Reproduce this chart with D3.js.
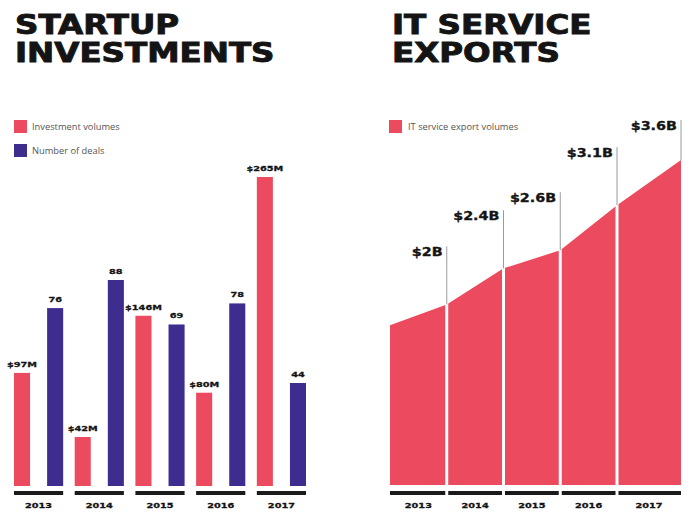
<!DOCTYPE html>
<html>
<head>
  <title>Startup Investments / IT Service Exports</title>
  <script src="https://d3js.org/d3.v7.min.js"></script>
  <style>
    body { margin: 0; background: #fff; }
    .wide { font-family: "DejaVu Sans", sans-serif; font-weight: bold; fill: #141414; stroke: #141414; stroke-width: 0.3; }
    .title { stroke-width: 0.9; }
    .legend { font-family: "Open Sans", sans-serif; font-size: 9.3px; fill: #555; }
  </style>
</head>
<body>
<div id="chart"></div>
<script>
  const years = ["2013", "2014", "2015", "2016", "2017"];
  const investVolumes = [97, 42, 146, 80, 265];
  const investLabels = ["$97M", "$42M", "$146M", "$80M", "$265M"];
  const dealCounts = [76, 88, 69, 78, 44];
  const exportStart = 1.77; // start of 2013, not labelled
  const exportVolumes = [2, 2.4, 2.6, 3.1, 3.6];
  const exportLabels = ["$2B", "$2.4B", "$2.6B", "$3.1B", "$3.6B"];

  const red = "#ec4a5e";
  const blue = "#3e2d8e";
  const width = 693;
  const height = 519;

  const svg = d3.select("#chart")
          .append("svg")
          .attr("width", width)
          .attr("height", height);

  // wide bold text: the original font is an extended grotesque
  function wide(g, x, y, str, size, anchor) {
    return g.append("text")
            .attr("class", "wide")
            .attr("transform", `translate(${x},${y}) scale(1.25,1)`)
            .attr("text-anchor", anchor || "start")
            .attr("font-size", size)
            .text(str);
  }

  // ---------- left: startup investments ----------
  const left = svg.append("g");
  wide(left, 15, 34, "STARTUP", 26).classed("title", true);
  wide(left, 15, 62, "INVESTMENTS", 26).classed("title", true);

  const legendL = [["Investment volumes", red], ["Number of deals", blue]];
  legendL.forEach(([name, c], i) => {
    left.append("rect").attr("x", 14).attr("y", 120 + i * 24)
            .attr("width", 13).attr("height", 13).attr("fill", c);
    left.append("text").attr("class", "legend")
            .attr("x", 32).attr("y", 129.5 + i * 24).text(name);
  });

  const x0 = d3.scaleBand()
          .domain(years)
          .range([14, 306])
          .paddingInner(0.19)
          .paddingOuter(0);

  const x1 = d3.scaleBand()
          .domain(["vol", "deals"])
          .range([0, x0.bandwidth()])
          .paddingInner(0.515);

  const baseL = 486;
  const yVol = d3.scaleLinear().domain([0, 265]).range([baseL, 177]);
  const yDeals = d3.scaleLinear().domain([0, 132]).range([baseL, 177]);

  const groups = left.selectAll(".grp")
          .data(years)
          .enter()
          .append("g")
          .attr("class", "grp")
          .attr("transform", d => `translate(${x0(d)},0)`);

  groups.append("rect")
          .attr("x", x1("vol"))
          .attr("width", x1.bandwidth())
          .attr("y", (d, i) => yVol(investVolumes[i]))
          .attr("height", (d, i) => baseL - yVol(investVolumes[i]))
          .attr("fill", red);

  groups.append("rect")
          .attr("x", x1("deals"))
          .attr("width", x1.bandwidth())
          .attr("y", (d, i) => yDeals(dealCounts[i]))
          .attr("height", (d, i) => baseL - yDeals(dealCounts[i]))
          .attr("fill", blue);

  groups.each(function (d, i) {
    const g = d3.select(this);
    wide(g, x1("vol") + x1.bandwidth() / 2, yVol(investVolumes[i]) - 6, investLabels[i], 7.8, "middle");
    wide(g, x1("deals") + x1.bandwidth() / 2, yDeals(dealCounts[i]) - 6, dealCounts[i], 7.8, "middle");
    wide(g, x0.bandwidth() / 2, 508, d, 7.8, "middle");
  });

  groups.append("rect")
          .attr("x", 0)
          .attr("y", 491)
          .attr("width", x0.bandwidth())
          .attr("height", 4)
          .attr("fill", "#1a1a1a");

  // ---------- right: IT service exports ----------
  const right = svg.append("g");
  wide(right, 392, 34, "IT SERVICE", 26).classed("title", true);
  wide(right, 392, 62, "EXPORTS", 26).classed("title", true);

  right.append("rect").attr("x", 389).attr("y", 120)
          .attr("width", 13).attr("height", 13).attr("fill", red);
  right.append("text").attr("class", "legend")
          .attr("x", 408).attr("y", 129.5).text("IT service export volumes");

  const baseR = 485;
  const points = [exportStart].concat(exportVolumes);
  const xE = d3.scaleLinear().domain([0, 4, 5]).range([390, 617, 681]);
  const yE = d3.scaleLinear().domain([0, 3.6]).range([baseR, 160]);

  const area = d3.area()
          .x((d, i) => xE(i))
          .y0(baseR)
          .y1(d => yE(d));

  right.append("path")
          .datum(points)
          .attr("d", area)
          .attr("fill", red);

  exportVolumes.forEach((v, i) => {
    const x = xE(i + 1);
    const top = Math.max(yE(v) - 58, 120);
    if (i < exportVolumes.length - 1) {
      right.append("line")
              .attr("x1", x).attr("x2", x)
              .attr("y1", yE(v) - 1).attr("y2", baseR + 1)
              .attr("stroke", "#fff").attr("stroke-width", 3);
    }
    right.append("line")
            .attr("x1", x).attr("x2", x)
            .attr("y1", top).attr("y2", yE(v))
            .attr("stroke", "#9a9a9a").attr("stroke-width", 1);
    wide(right, x - 4, top + 9.5, exportLabels[i], 11.5, "end");
  });

  years.forEach((yr, i) => {
    const a = xE(i) + (i > 0 ? 1.5 : 0);
    const b = xE(i + 1) - (i < years.length - 1 ? 1.5 : 0);
    right.append("rect")
            .attr("x", a).attr("y", 491)
            .attr("width", b - a).attr("height", 4)
            .attr("fill", "#1a1a1a");
    wide(right, (xE(i) + xE(i + 1)) / 2, 508, yr, 7.8, "middle");
  });
</script>
</body>
</html>
